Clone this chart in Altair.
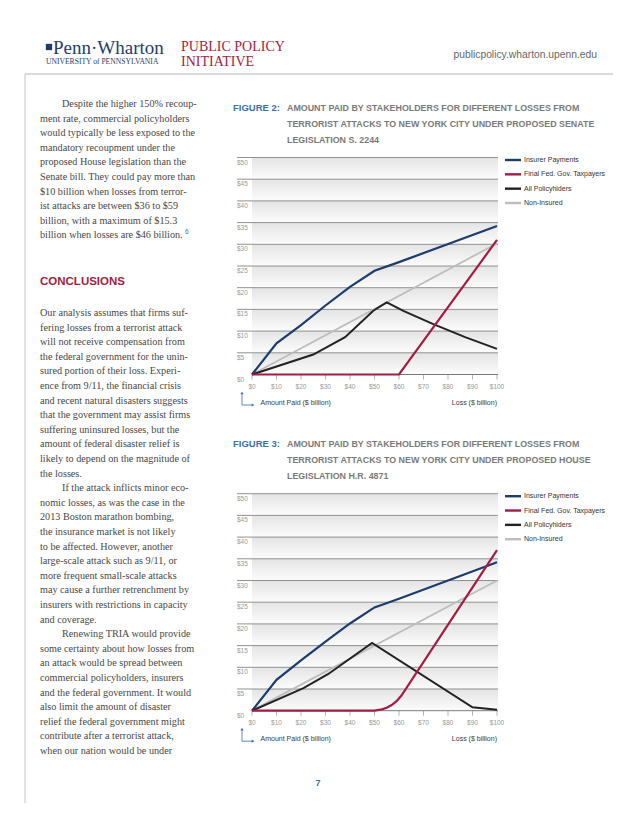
import altair as alt
import pandas as pd

# ------------------------------------------------------------------ data
loss_ticks = [0, 10, 20, 30, 40, 50, 60, 70, 80, 90, 100]
loss_labels = ["$0", "$10", "$20", "$30", "$40", "$50", "$60", "$70", "$80", "$90", "$100"]
paid_ticks = [0, 5, 10, 15, 20, 25, 30, 35, 40, 45, 50]
paid_labels = ["$0", "$5", "$10", "$15", "$20", "$25", "$30", "$35", "$40", "$45", "$50"]

series_names = ["Insurer Payments", "Final Fed. Gov. Taxpayers", "All Policyhiders", "Non-Insured"]
series_colors = ["#1d3c6e", "#a31d42", "#222222", "#bdbdbd"]

# Figure 2 : Senate S. 2244
sen_insurer_loss = [0, 10, 20, 30, 40, 50, 60, 100]
sen_insurer_paid = [0, 7.2, 11.4, 15.9, 20.2, 23.9, 25.9, 34.2]
sen_fed_loss = [0, 60, 100]
sen_fed_paid = [0, 0, 31.0]
sen_pol_loss = [0, 25, 38, 49.5, 55, 62, 74, 87, 100]
sen_pol_paid = [0, 4.6, 8.6, 14.7, 16.6, 14.6, 11.6, 8.6, 5.9]
sen_non_loss = [0, 100]
sen_non_paid = [0, 30.2]

# Figure 3 : House H.R. 4871
hou_insurer_loss = [0, 10, 20, 30, 40, 50, 60, 100]
hou_insurer_paid = [0, 7.1, 11.6, 15.9, 20.1, 23.8, 25.8, 34.2]
hou_fed_loss = [0, 50, 53, 55, 57, 59, 61, 100]
hou_fed_paid = [0, 0, 0.3, 0.7, 1.3, 2.2, 3.5, 37.0]
hou_pol_loss = [0, 21, 31, 49, 90, 100]
hou_pol_paid = [0, 5.2, 8.4, 15.6, 0.8, 0.2]
hou_non_loss = [0, 100]
hou_non_paid = [0, 30.0]

fig2_label = "FIGURE 2:"
fig2_title = ["AMOUNT PAID BY STAKEHOLDERS FOR DIFFERENT LOSSES FROM",
              "TERRORIST ATTACKS  TO NEW YORK CITY UNDER PROPOSED SENATE",
              "LEGISLATION S. 2244"]
fig3_label = "FIGURE 3:"
fig3_title = ["AMOUNT PAID BY STAKEHOLDERS FOR DIFFERENT LOSSES FROM",
              "TERRORIST ATTACKS  TO NEW YORK CITY UNDER PROPOSED HOUSE",
              "LEGISLATION H.R. 4871"]
axis_titles = ["Amount Paid ($ billion)", "Loss ($ billion)"]

para1 = ["Despite the higher 150% recoup-",
         "ment rate, commercial policyholders",
         "would typically be less exposed to the",
         "mandatory recoupment under the",
         "proposed House legislation than the",
         "Senate bill. They could pay more than",
         "$10 billion when losses from terror-",
         "ist attacks are between $36 to $59",
         "billion, with a maximum of $15.3",
         "billion when losses are $46 billion."]
para1_indent = [1, 0, 0, 0, 0, 0, 0, 0, 0, 0]
heading = "CONCLUSIONS"
body = ["Our analysis assumes that firms suf-",
        "fering losses from a terrorist attack",
        "will not receive compensation from",
        "the federal government for the unin-",
        "sured portion of their loss. Experi-",
        "ence from 9/11, the financial crisis",
        "and recent natural disasters suggests",
        "that the government may assist firms",
        "suffering uninsured losses, but the",
        "amount of federal disaster relief is",
        "likely to depend on the magnitude of",
        "the losses.",
        "If the attack inflicts minor eco-",
        "nomic losses, as was the case in the",
        "2013 Boston marathon bombing,",
        "the insurance market is not likely",
        "to be affected. However, another",
        "large-scale attack such as 9/11, or",
        "more frequent small-scale attacks",
        "may cause a further retrenchment by",
        "insurers with restrictions in capacity",
        "and coverage.",
        "Renewing TRIA would provide",
        "some certainty about how losses from",
        "an attack would be spread between",
        "commercial policyholders, insurers",
        "and the federal government. It would",
        "also limit the amount of disaster",
        "relief the federal government might",
        "contribute after a terrorist attack,",
        "when our nation would be under"]
body_indent = [0] * 12 + [1] + [0] * 9 + [1] + [0] * 8
footnote_mark = "6"
header_texts = ["Penn\u00b7Wharton", "UNIVERSITY of PENNSYLVANIA", "PUBLIC POLICY", "INITIATIVE",
                "publicpolicy.wharton.upenn.edu"]
page_number = "7"

# ------------------------------------------------------------------ style
SERIF = "Liberation Serif"
SANS = "Liberation Sans"
BLUE_TXT = "#3b6fa8"
RED_TXT = "#a31d42"
NAVY = "#1f3c6e"


def lin(domain, rng):
    return alt.Scale(domain=domain, range=rng, nice=False, zero=False)


color_scale = alt.Scale(domain=series_names, range=series_colors)


def one(text):
    return pd.DataFrame({"t": [text]})


def single_text(text, x, y, **kw):
    return alt.Chart(one(text)).mark_text(**kw).encode(
        x=alt.value(x), y=alt.value(y), text="t:N")


def rows_text(lines, indents, x0, x_ind, y_first, step, **kw):
    n = len(lines) - 1
    df = pd.DataFrame({"row": list(range(len(lines))), "t": lines, "ind": indents})
    return alt.Chart(df).mark_text(align="left", baseline="middle", **kw).encode(
        x=alt.X("ind:Q", scale=lin([0, 1], [x0, x_ind]), axis=None),
        y=alt.Y("row:Q", scale=lin([0, max(n, 1)], [y_first, y_first + step * max(n, 1)]), axis=None),
        text="t:N")


def series_df(parts):
    rows = []
    for name, xs, ys in parts:
        for i, (a, b) in enumerate(zip(xs, ys)):
            rows.append({"series": name, "loss": a, "paid": b, "ord": i})
    return pd.DataFrame(rows)


def figure(df, off):
    xs = lin([0, 100], [244, 489])
    ys = lin([0, 50], [366.5 + off, 149.5 + off])
    X = lambda f: alt.X(f, scale=xs, axis=None)
    Y = lambda f: alt.Y(f, scale=ys, axis=None)

    grad = alt.LinearGradient(
        gradient="linear",
        stops=[alt.GradientStop(color="#e4e4e4", offset=0),
               alt.GradientStop(color="#fcfcfc", offset=1)],
        x1=0, x2=0, y1=0, y2=1)
    bands = pd.DataFrame({"lo": paid_ticks[:-1], "hi": paid_ticks[1:]})
    band_layer = alt.Chart(bands).mark_rect(fill=grad).encode(
        x=alt.value(244), x2=alt.value(490), y=Y("hi:Q"), y2="lo:Q")

    grid_df = pd.DataFrame({"v": paid_ticks[1:]})
    grid = alt.Chart(grid_df).mark_rule(color="#858585", strokeWidth=0.9).encode(
        x=alt.value(229), x2=alt.value(490), y=Y("v:Q"))

    axis_df = pd.DataFrame({"v": [0]})
    axis_line = alt.Chart(axis_df).mark_rule(color="#7a7a7a", strokeWidth=1).encode(
        x=alt.value(244), x2=alt.value(490), y=Y("v:Q"))

    xt = pd.DataFrame({"loss": loss_ticks, "lab": loss_labels, "z": [0] * len(loss_ticks)})
    ticks = alt.Chart(xt).mark_tick(orient="vertical", size=5, thickness=0.8, yOffset=2.5,
                                    color="#7a7a7a").encode(x=X("loss:Q"), y=Y("z:Q"))
    xlab = alt.Chart(xt).mark_text(font=SANS, fontSize=6.5, color="#999999", dy=12.5,
                                   baseline="middle").encode(x=X("loss:Q"), y=Y("z:Q"), text="lab:N")

    yt = pd.DataFrame({"v": paid_ticks, "lab": paid_labels})
    ylab = alt.Chart(yt).mark_text(font=SANS, fontSize=6.5, color="#999999", align="left",
                                   baseline="top", dy=2).encode(
        x=alt.value(229), y=Y("v:Q"), text="lab:N")

    layers = [band_layer, grid, axis_line, ticks, xlab, ylab]
    for name, sw in [("Non-Insured", 1.8), ("Insurer Payments", 2.2),
                     ("All Policyhiders", 2.0), ("Final Fed. Gov. Taxpayers", 2.2)]:
        layers.append(
            alt.Chart(df).transform_filter(alt.datum.series == name).mark_line(strokeWidth=sw).encode(
                x=X("loss:Q"), y=Y("paid:Q"),
                color=alt.Color("series:N", scale=color_scale, legend=None),
                order="ord:Q"))

    # axis titles and corner arrow
    layers.append(single_text(axis_titles[0], 252.5, 395 + off, font=SANS, fontSize=7,
                              color="#3a3a3a", align="left", baseline="middle"))
    layers.append(single_text(axis_titles[1], 489, 395 + off, font=SANS, fontSize=7,
                              color="#3a3a3a", align="right", baseline="middle"))
    arrow = one("a")
    layers.append(alt.Chart(arrow).mark_rule(color=BLUE_TXT, strokeWidth=0.8).encode(
        x=alt.value(234), y=alt.value(386 + off), y2=alt.value(397 + off)))
    layers.append(alt.Chart(arrow).mark_rule(color=BLUE_TXT, strokeWidth=0.8).encode(
        x=alt.value(234), x2=alt.value(244), y=alt.value(397 + off)))
    layers.append(alt.Chart(arrow).mark_point(shape="triangle-up", filled=True, size=10,
                                              color=BLUE_TXT, opacity=1).encode(
        x=alt.value(234), y=alt.value(385 + off)))
    layers.append(alt.Chart(arrow).mark_point(shape="triangle-right", filled=True, size=10,
                                              color=BLUE_TXT, opacity=1).encode(
        x=alt.value(245), y=alt.value(397 + off)))
    return alt.layer(*layers)


def legend(off):
    df = pd.DataFrame({"row": [0, 1, 2, 3], "series": series_names})
    ys = lin([0, 3], [152 + off, 195 + off])
    sw = alt.Chart(df).mark_rule(strokeWidth=2.4).encode(
        x=alt.value(497), x2=alt.value(513),
        y=alt.Y("row:Q", scale=ys, axis=None),
        color=alt.Color("series:N", scale=color_scale, legend=None))
    tx = alt.Chart(df).mark_text(font=SANS, fontSize=7, color="#333333", align="left",
                                 baseline="middle").encode(
        x=alt.value(516), y=alt.Y("row:Q", scale=ys, axis=None), text="series:N")
    return alt.layer(sw, tx)


def fig_title(label, lines, off):
    lab = single_text(label, 225, 100 + off, font=SANS, fontSize=9.5, fontWeight="bold",
                      color=BLUE_TXT, align="left", baseline="middle")
    t = rows_text(lines, [0] * len(lines), 279, 279, 100 + off, 16, font=SANS, fontSize=8.9,
                  fontWeight="bold", color="#7a7a7a")
    return alt.layer(lab, t)


sen_df = series_df([
    ("Insurer Payments", sen_insurer_loss, sen_insurer_paid),
    ("Final Fed. Gov. Taxpayers", sen_fed_loss, sen_fed_paid),
    ("All Policyhiders", sen_pol_loss, sen_pol_paid),
    ("Non-Insured", sen_non_loss, sen_non_paid)])
hou_df = series_df([
    ("Insurer Payments", hou_insurer_loss, hou_insurer_paid),
    ("Final Fed. Gov. Taxpayers", hou_fed_loss, hou_fed_paid),
    ("All Policyhiders", hou_pol_loss, hou_pol_paid),
    ("Non-Insured", hou_non_loss, hou_non_paid)])

# ------------------------------------------------------------------ page furniture
rule_df = one("r")
header_rule = alt.Chart(rule_df).mark_rule(color="#b5b5b5", strokeWidth=1).encode(
    x=alt.value(17), x2=alt.value(605), y=alt.value(66))
left_rule = alt.Chart(rule_df).mark_rule(color="#c4c4c4", strokeWidth=1).encode(
    x=alt.value(17), y=alt.value(66), y2=alt.value(795))
shield = alt.Chart(rule_df).mark_point(shape="square", filled=True, size=40, color=NAVY,
                                       opacity=1).encode(x=alt.value(41), y=alt.value(39))

header = alt.layer(
    header_rule, left_rule, shield,
    single_text(header_texts[0], 45, 40, font=SERIF, fontSize=19, color=NAVY, align="left",
                baseline="middle"),
    single_text(header_texts[1], 38, 54, font=SERIF, fontSize=7.6, color=NAVY, align="left",
                baseline="middle"),
    single_text(header_texts[2], 173, 39, font=SERIF, fontSize=14, color=RED_TXT, align="left",
                baseline="middle"),
    single_text(header_texts[3], 173, 54, font=SERIF, fontSize=14, color=RED_TXT, align="left",
                baseline="middle"),
    single_text(header_texts[4], 589, 47, font=SANS, fontSize=10.3, color="#666666", align="right",
                baseline="middle"),
    single_text(page_number, 310, 775, font=SANS, fontSize=9, fontWeight="bold", color=BLUE_TXT,
                align="center", baseline="middle"),
)

col1 = rows_text(para1, para1_indent, 32, 54, 96, 14.6, font=SERIF, fontSize=10.2, color="#474747")
foot = single_text(footnote_mark, 177, 224, font=SANS, fontSize=6.5, color=BLUE_TXT, align="left",
                   baseline="middle")
head = single_text(heading, 32, 274, font=SANS, fontSize=11.5, fontWeight="bold", color=RED_TXT,
                   align="left", baseline="middle")
col2 = rows_text(body, body_indent, 32, 54, 305, 14.6, font=SERIF, fontSize=10.2, color="#474747")

OFF = 336.2
chart = alt.layer(
    header, col1, foot, head, col2,
    fig_title(fig2_label, fig2_title, 0), figure(sen_df, 0), legend(0),
    fig_title(fig3_label, fig3_title, OFF), figure(hou_df, OFF), legend(OFF),
).resolve_scale(x="independent", y="independent").properties(
    width=622, height=810, autosize=alt.AutoSizeParams(type="none"), padding=0,
    background="white"
).configure_view(stroke=None)

chart.save("out.html", embed_options={"renderer": "svg", "actions": False})
